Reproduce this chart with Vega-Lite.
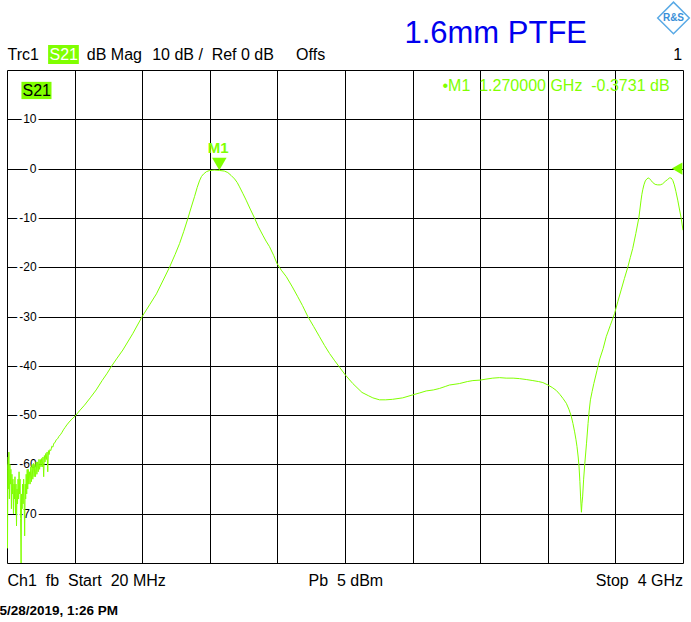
{
  "$schema": "https://vega.github.io/schema/vega-lite/v6.json",
  "width": 676,
  "height": 493,
  "autosize": {"type": "none"},
  "padding": {"left": 7, "top": 70, "right": 8, "bottom": 59},
  "background": "white",
  "config": {
    "view": {"stroke": null},
    "font": "Liberation Sans",
    "text": {"font": "Liberation Sans"},
    "axis": {"grid": true, "gridColor": "#000000", "gridOpacity": 1, "gridWidth": 1, "labels": false, "ticks": false, "domain": false, "title": null}
  },
  "datasets": {
    "trace": [
      {"f":20,"db":-60},{"f":22,"db":-68},{"f":23,"db":-77},{"f":25,"db":-61},{"f":27,"db":-58.5},{"f":29,"db":-65},{"f":31,"db":-57.5},{"f":34,"db":-67},{"f":37,"db":-60},{"f":40,"db":-64},{"f":43,"db":-61},{"f":46,"db":-69},{"f":49,"db":-62},{"f":52,"db":-66},{"f":55,"db":-63},{"f":58,"db":-70},{"f":61,"db":-64},{"f":64,"db":-67},{"f":67,"db":-62.5},{"f":70,"db":-70},{"f":73,"db":-64},{"f":76,"db":-72.5},{"f":79,"db":-65},{"f":82,"db":-68},{"f":85,"db":-63},{"f":88,"db":-67},{"f":91,"db":-61.5},{"f":94,"db":-66},{"f":97,"db":-63},{"f":100,"db":-71},{"f":103,"db":-80},{"f":106,"db":-66},{"f":109,"db":-69},{"f":112,"db":-64},{"f":115,"db":-68},{"f":118,"db":-63},{"f":121,"db":-67},{"f":124,"db":-74.5},{"f":127,"db":-64},{"f":130,"db":-67},{"f":133,"db":-62},{"f":136,"db":-66},{"f":139,"db":-61},{"f":142,"db":-65},{"f":145,"db":-61},{"f":148,"db":-64},
      {"f":152,"db":-61.5},{"f":156,"db":-64},{"f":160,"db":-60.5},{"f":164,"db":-63.5},{"f":168,"db":-60},{"f":172,"db":-63},{"f":176,"db":-59.8},{"f":180,"db":-62.5},{"f":184,"db":-60},{"f":188,"db":-62.5},{"f":192,"db":-59.5},{"f":196,"db":-62},{"f":200,"db":-59.5},{"f":204,"db":-61.5},{"f":208,"db":-59},{"f":212,"db":-61},{"f":216,"db":-59},{"f":220,"db":-60.5},{"f":224,"db":-58.8},{"f":228,"db":-60.5},{"f":232,"db":-58.5},{"f":236,"db":-62.5},{"f":240,"db":-58.2},{"f":244,"db":-59.5},{"f":248,"db":-57.8},{"f":252,"db":-59},{"f":256,"db":-57.5},{"f":260,"db":-61.5},{"f":264,"db":-57.2},{"f":268,"db":-58},{"f":272,"db":-57},{"f":278,"db":-57.2},{"f":284,"db":-56.3},{"f":290,"db":-56.5},{"f":296,"db":-55.7},{"f":302,"db":-55.6},{"f":310,"db":-55},{"f":318,"db":-54.8},{"f":326,"db":-54.3},{"f":334,"db":-54},{"f":342,"db":-53.6},{"f":352,"db":-53},{"f":362,"db":-52.5},{"f":372,"db":-52},{"f":386,"db":-51.4},{"f":402,"db":-50.8},{"f":421,"db":-50.2},
      {"f":450,"db":-49},{"f":476,"db":-48},{"f":510,"db":-46.5},{"f":545,"db":-44.9},{"f":580,"db":-43},{"f":610,"db":-41.5},{"f":633,"db":-40.2},{"f":665,"db":-38.6},{"f":702,"db":-36.8},{"f":760,"db":-33.5},{"f":816,"db":-30},{"f":860,"db":-27.6},{"f":900,"db":-25.4},{"f":940,"db":-22.6},{"f":977,"db":-20},{"f":1010,"db":-17.4},{"f":1036,"db":-15.2},{"f":1060,"db":-12.8},{"f":1085,"db":-10.1},{"f":1105,"db":-7.8},{"f":1124,"db":-5.7},{"f":1140,"db":-3.8},{"f":1153,"db":-2.5},{"f":1165,"db":-1.6},{"f":1177,"db":-1.1},{"f":1195,"db":-0.6},{"f":1212,"db":-0.4},{"f":1240,"db":-0.3},{"f":1270,"db":-0.37},{"f":1300,"db":-0.5},{"f":1320,"db":-0.8},{"f":1340,"db":-1.4},{"f":1360,"db":-2.1},{"f":1375,"db":-2.8},{"f":1389,"db":-3.7},{"f":1408,"db":-5},{"f":1428,"db":-6.4},{"f":1452,"db":-8.2},{"f":1477,"db":-10},{"f":1500,"db":-11.8},{"f":1526,"db":-13.5},{"f":1545,"db":-14.7},{"f":1565,"db":-15.8},{"f":1590,"db":-17.6},{"f":1609,"db":-19.2},{"f":1635,"db":-20.6},{"f":1664,"db":-21.9},{"f":1700,"db":-24},{"f":1732,"db":-26},{"f":1760,"db":-27.8},{"f":1791,"db":-30},{"f":1825,"db":-32},{"f":1860,"db":-34.1},{"f":1890,"db":-35.9},{"f":1919,"db":-37.5},{"f":1950,"db":-39},{"f":1978,"db":-40.3},{"f":2013,"db":-41.9},{"f":2056,"db":-43.6},{"f":2110,"db":-45.4},{"f":2150,"db":-46.1},{"f":2174,"db":-46.5},{"f":2213,"db":-46.9},{"f":2250,"db":-46.9},{"f":2290,"db":-46.8},{"f":2350,"db":-46.5},{"f":2409,"db":-45.9},{"f":2450,"db":-45.5},{"f":2488,"db":-45.1},{"f":2530,"db":-44.9},{"f":2566,"db":-44.6},{"f":2600,"db":-44.2},{"f":2625,"db":-43.9},{"f":2684,"db":-43.6},{"f":2730,"db":-43.2},{"f":2763,"db":-43},{"f":2806,"db":-42.9},{"f":2840,"db":-42.7},{"f":2880,"db":-42.5},{"f":2920,"db":-42.4},{"f":2959,"db":-42.5},{"f":3000,"db":-42.5},{"f":3037,"db":-42.6},{"f":3080,"db":-42.8},{"f":3116,"db":-43},{"f":3150,"db":-43.2},{"f":3175,"db":-43.4},{"f":3205,"db":-43.9},{"f":3230,"db":-44.4},{"f":3254,"db":-45},{"f":3275,"db":-45.8},{"f":3293,"db":-46.6},{"f":3313,"db":-47.6},{"f":3328,"db":-48.8},{"f":3342,"db":-50.2},{"f":3352,"db":-51.7},{"f":3362,"db":-53.4},{"f":3370,"db":-55},{"f":3376,"db":-56.4},{"f":3383,"db":-58.5},{"f":3388,"db":-60.5},{"f":3393,"db":-63.5},{"f":3397,"db":-66.6},{"f":3402,"db":-69.7},{"f":3405,"db":-68},{"f":3409,"db":-66.6},{"f":3415,"db":-63},{"f":3422,"db":-59.8},{"f":3432,"db":-55.7},{"f":3441,"db":-51.7},{"f":3448,"db":-49},{"f":3455,"db":-46.9},{"f":3465,"db":-45.2},{"f":3475,"db":-43.6},{"f":3494,"db":-40.9},{"f":3510,"db":-38.6},{"f":3530,"db":-36.5},{"f":3548,"db":-34.1},{"f":3572,"db":-31.8},{"f":3597,"db":-29.4},{"f":3616,"db":-27},{"f":3636,"db":-24.6},{"f":3655,"db":-22.3},{"f":3675,"db":-20},{"f":3690,"db":-18},{"f":3704,"db":-16.2},{"f":3722,"db":-13.2},{"f":3740,"db":-10},{"f":3748,"db":-7.8},{"f":3753,"db":-6.4},{"f":3758,"db":-5.2},{"f":3763,"db":-4.3},{"f":3770,"db":-3.3},{"f":3778,"db":-2.5},{"f":3787,"db":-2.1},{"f":3795,"db":-1.9},{"f":3802,"db":-2},{"f":3812,"db":-2.4},{"f":3821,"db":-2.8},{"f":3836,"db":-3.2},{"f":3851,"db":-3.3},{"f":3866,"db":-3.3},{"f":3880,"db":-3.1},{"f":3895,"db":-2.6},{"f":3910,"db":-2.2},{"f":3920,"db":-1.9},{"f":3930,"db":-1.9},{"f":3940,"db":-2.4},{"f":3949,"db":-3.3},{"f":3958,"db":-4.6},{"f":3969,"db":-6.4},{"f":3980,"db":-8.4},{"f":3989,"db":-10},{"f":4000,"db":-12.5}
    ],
    "ylabels": [
      {"db":10,"label":"10"},{"db":0,"label":"0"},{"db":-10,"label":"-10"},{"db":-20,"label":"-20"},{"db":-30,"label":"-30"},{"db":-40,"label":"-40"},{"db":-50,"label":"-50"},{"db":-60,"label":"-60"},{"db":-70,"label":"-70"}
    ],
    "one": [{}]
  },
  "layer": [
    {
      "data": {"name": "ylabels"},
      "mark": {"type": "text", "align": "right", "baseline": "middle", "fontSize": 12, "fill": "white", "stroke": "white", "strokeWidth": 5},
      "encoding": {
        "x": {"datum": 194, "type": "quantitative", "scale": {"domain": [20, 4000], "nice": false, "zero": false}},
        "y": {"field": "db", "type": "quantitative", "scale": {"domain": [-80, 20], "nice": false, "zero": false}},
        "text": {"field": "label"}
      }
    },
    {
      "data": {"name": "ylabels"},
      "mark": {"type": "text", "align": "right", "baseline": "middle", "fontSize": 12, "color": "black"},
      "encoding": {
        "x": {"datum": 194, "type": "quantitative"},
        "y": {"field": "db", "type": "quantitative"},
        "text": {"field": "label"}
      }
    },
    {
      "data": {"name": "trace"},
      "mark": {"type": "line", "color": "#80ff00", "strokeWidth": 1, "clip": true},
      "encoding": {
        "x": {"field": "f", "type": "quantitative", "scale": {"domain": [20, 4000], "nice": false, "zero": false},
              "axis": {"values": [20, 418, 816, 1214, 1612, 2010, 2408, 2806, 3204, 3602, 4000], "grid": true, "labels": false, "ticks": false, "domain": false, "title": null}},
        "y": {"field": "db", "type": "quantitative", "scale": {"domain": [-80, 20], "nice": false, "zero": false},
              "axis": {"values": [-80, -70, -60, -50, -40, -30, -20, -10, 0, 10, 20], "grid": true, "labels": false, "ticks": false, "domain": false, "title": null}}
      }
    },
    {
      "data": {"name": "one"},
      "mark": {"type": "rect", "color": "#80ff00"},
      "encoding": {"x": {"datum": 105}, "x2": {"datum": 282}, "y": {"datum": 17.6}, "y2": {"datum": 14.1}}
    },
    {
      "data": {"name": "one"},
      "mark": {"type": "text", "text": "S21", "align": "left", "baseline": "alphabetic", "fontSize": 16, "color": "black"},
      "encoding": {"x": {"datum": 111}, "y": {"datum": 14.7}}
    },
    {
      "data": {"name": "one"},
      "mark": {"type": "rect", "color": "#80ff00"},
      "encoding": {"x": {"datum": 262}, "x2": {"datum": 443}, "y": {"datum": 25.07}, "y2": {"datum": 21.22}}
    },
    {
      "data": {"name": "one"},
      "mark": {"type": "text", "text": "S21", "align": "left", "baseline": "alphabetic", "fontSize": 16, "color": "white"},
      "encoding": {"x": {"datum": 270}, "y": {"datum": 22.03}}
    },
    {
      "data": {"name": "one"},
      "mark": {"type": "text", "text": "Trc1", "align": "left", "baseline": "alphabetic", "fontSize": 16, "color": "black"},
      "encoding": {"x": {"datum": 23}, "y": {"datum": 22.03}}
    },
    {
      "data": {"name": "one"},
      "mark": {"type": "text", "text": "dB Mag", "align": "left", "baseline": "alphabetic", "fontSize": 16, "color": "black"},
      "encoding": {"x": {"datum": 490}, "y": {"datum": 22.03}}
    },
    {
      "data": {"name": "one"},
      "mark": {"type": "text", "text": "10 dB /", "align": "left", "baseline": "alphabetic", "fontSize": 16, "color": "black"},
      "encoding": {"x": {"datum": 875}, "y": {"datum": 22.03}}
    },
    {
      "data": {"name": "one"},
      "mark": {"type": "text", "text": "Ref 0 dB", "align": "left", "baseline": "alphabetic", "fontSize": 16, "color": "black"},
      "encoding": {"x": {"datum": 1225}, "y": {"datum": 22.03}}
    },
    {
      "data": {"name": "one"},
      "mark": {"type": "text", "text": "Offs", "align": "left", "baseline": "alphabetic", "fontSize": 16, "color": "black"},
      "encoding": {"x": {"datum": 1722}, "y": {"datum": 22.03}}
    },
    {
      "data": {"name": "one"},
      "mark": {"type": "text", "text": "1", "align": "right", "baseline": "alphabetic", "fontSize": 16, "color": "black"},
      "encoding": {"x": {"datum": 3995}, "y": {"datum": 22.03}}
    },
    {
      "data": {"name": "one"},
      "mark": {"type": "text", "text": "1.6mm PTFE", "align": "left", "baseline": "alphabetic", "fontSize": 31, "color": "#0000ee"},
      "encoding": {"x": {"datum": 2360}, "y": {"datum": 25.4}}
    },
    {
      "data": {"name": "one"},
      "mark": {"type": "text", "text": "•M1\u00a0 1.270000 GHz\u00a0 -0.3731 dB", "align": "left", "baseline": "alphabetic", "fontSize": 16, "color": "#80ff00"},
      "encoding": {"x": {"datum": 2584}, "y": {"datum": 15.74}}
    },
    {
      "data": {"name": "one"},
      "mark": {"type": "point", "shape": "triangle-down", "size": 210, "filled": true, "color": "#80ff00", "opacity": 1},
      "encoding": {"x": {"datum": 1270}, "y": {"datum": 0.93}}
    },
    {
      "data": {"name": "one"},
      "mark": {"type": "text", "text": "M1", "align": "center", "baseline": "alphabetic", "fontSize": 15, "fontWeight": "bold", "color": "#80ff00"},
      "encoding": {"x": {"datum": 1264}, "y": {"datum": 3.23}}
    },
    {
      "data": {"name": "one"},
      "mark": {"type": "point", "shape": "triangle-left", "size": 150, "filled": true, "color": "#80ff00", "opacity": 1},
      "encoding": {"x": {"datum": 3965}, "y": {"datum": 0}}
    },
    {
      "data": {"name": "one"},
      "mark": {"type": "text", "text": "Ch1\u00a0 fb\u00a0 Start\u00a0 20 MHz", "align": "left", "baseline": "alphabetic", "fontSize": 16, "color": "black"},
      "encoding": {"x": {"datum": 23}, "y": {"datum": -84.67}}
    },
    {
      "data": {"name": "one"},
      "mark": {"type": "text", "text": "Pb\u00a0 5 dBm", "align": "left", "baseline": "alphabetic", "fontSize": 16, "color": "black"},
      "encoding": {"x": {"datum": 1795}, "y": {"datum": -84.67}}
    },
    {
      "data": {"name": "one"},
      "mark": {"type": "text", "text": "Stop\u00a0 4 GHz", "align": "right", "baseline": "alphabetic", "fontSize": 16, "color": "black"},
      "encoding": {"x": {"datum": 4000}, "y": {"datum": -84.67}}
    },
    {
      "data": {"name": "one"},
      "mark": {"type": "text", "text": "5/28/2019, 1:26 PM", "align": "left", "baseline": "alphabetic", "fontSize": 13.5, "fontWeight": "bold", "color": "black"},
      "encoding": {"x": {"datum": -24}, "y": {"datum": -90.6}}
    },
    {
      "data": {"name": "one"},
      "mark": {"type": "point", "shape": "diamond", "size": 1000, "filled": true, "fill": "white", "stroke": "#5aaae6", "strokeWidth": 1.5, "opacity": 1},
      "encoding": {"x": {"datum": 3944}, "y": {"datum": 30.55}}
    },
    {
      "data": {"name": "one"},
      "mark": {"type": "text", "text": "R&S", "align": "center", "baseline": "middle", "fontSize": 10, "fontWeight": "bold", "color": "#3a8fd8"},
      "encoding": {"x": {"datum": 3944}, "y": {"datum": 30.55}}
    }
  ]
}
